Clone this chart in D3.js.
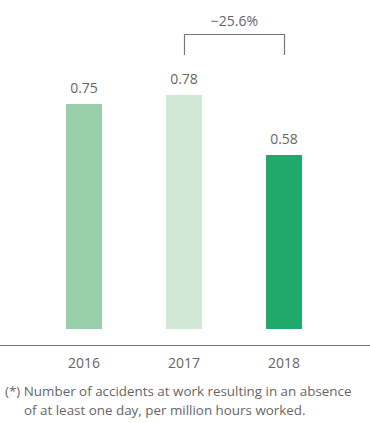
<!DOCTYPE html>
<html>
<head>
<meta charset="utf-8">
<script src="https://cdn.jsdelivr.net/npm/d3@7"></script>
<style>
  body { margin: 0; background: #fff; }
  text { font-family: "Open Sans", "Noto Sans", sans-serif; fill: #666; }
</style>
</head>
<body>
<script>
var years = ["2016", "2017", "2018"];
var values = [0.75, 0.78, 0.58];
var colors = ["#99cfaa", "#d1e8d7", "#1faa6c"];
var changeLabel = "\u221225.6%";
var footnote = ["(*) Number of accidents at work resulting in an absence", "of at least one day, per million hours worked."];

var width = 370, height = 423;
var svg = d3.select("body").append("svg").attr("width", width).attr("height", height);

var x = d3.scaleBand().domain(years).range([34, 334]).paddingInner(0.64).paddingOuter(0.32);
var y = d3.scaleLinear().domain([0, 1]).range([329, 29]);

svg.selectAll("rect.bar").data(values).enter().append("rect")
  .attr("class", "bar")
  .attr("x", function(d, i) { return x(years[i]); })
  .attr("y", function(d) { return y(d); })
  .attr("width", x.bandwidth())
  .attr("height", function(d) { return y(0) - y(d); })
  .attr("fill", function(d, i) { return colors[i]; });

svg.selectAll("text.val").data(values).enter().append("text")
  .attr("class", "val")
  .attr("x", function(d, i) { return x(years[i]) + x.bandwidth() / 2; })
  .attr("y", function(d) { return y(d) - 11; })
  .attr("text-anchor", "middle")
  .attr("font-size", 14)
  .text(function(d) { return d.toFixed(2); });

// baseline axis
svg.append("line").attr("x1", 0).attr("x2", width).attr("y1", 345.5).attr("y2", 345.5)
  .attr("stroke", "#777").attr("stroke-width", 1.2);

var axis = d3.axisBottom(x).tickSize(0).tickPadding(0);
var g = svg.append("g").attr("transform", "translate(0,358)").call(axis);
g.select(".domain").remove();
g.selectAll("text").attr("font-size", 14).style("fill", "#666")
  .style("font-family", "'Open Sans', 'Noto Sans', sans-serif");

// bracket showing change 2017 -> 2018
var bx1 = Math.round(x("2017") + x.bandwidth() / 2) + 0.5;
var bx2 = Math.round(x("2018") + x.bandwidth() / 2) + 0.5;
svg.append("path")
  .attr("d", "M" + bx1 + ",55V34.5H" + bx2 + "V55")
  .attr("fill", "none").attr("stroke", "#777").attr("stroke-width", 1.2);
svg.append("text").attr("x", (bx1 + bx2) / 2).attr("y", 26)
  .attr("text-anchor", "middle").attr("font-size", 14).text(changeLabel);

svg.selectAll("text.note").data(footnote).enter().append("text")
  .attr("class", "note")
  .attr("x", function(d, i) { return i === 0 ? 5 : 24; })
  .attr("y", function(d, i) { return 396 + i * 18.5; })
  .attr("font-size", 13.4)
  .text(function(d) { return d; });
</script>
</body>
</html>
